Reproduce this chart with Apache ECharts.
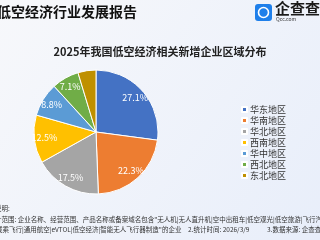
<!DOCTYPE html>
<html>
<head>
<meta charset="utf-8">
<script src="https://cdn.jsdelivr.net/npm/echarts@6/dist/echarts.min.js"></script>
<style>
  html, body { margin: 0; padding: 0; }
  #chart { width: 320px; height: 240px; }
</style>
</head>
<body>
<div id="chart"></div>
<script>
// 区域名称和占比(%)
var regions = ['华东地区', '华南地区', '华北地区', '西南地区', '华中地区', '西北地区', '东北地区']
var shares = [27.1, 22.3, 17.5, 12.5, 8.8, 7.1, 4.7]
var colors = ['#4472C4', '#ED7D31', '#A5A5A5', '#FFC000', '#5B9BD5', '#70AD47', '#BF9000']

// 底部说明，[文字, x, 行号]
var footItems = [
  ['说明:', -5, 0],
  ['1.统计范围: 企业名称、经营范围、产品名称或备案域名包含"无人机|无人直升机|空中出租车|低空观光|低空旅游|飞行汽车|载', -17, 1],
  ['载乘飞行|通用航空|eVTOL|低空经济|智能无人飞行器制造"的企业', -4, 2],
  ['2.统计时间: 2026/3/9', 188, 2],
  ['3.数据来源: 企查查', 267, 2]
]

var font = '"Noto Sans CJK SC", "Noto Sans", sans-serif'
var pieData = regions.map(function (name, i) {
  return { name: name, value: shares[i] }
})

var myChart = echarts.init(document.getElementById('chart'))

var graphics = [
  {
    type: 'text', left: -3, top: 5,
    style: { text: '低空经济行业发展报告', font: 'bold 14px ' + font, fill: '#111' }
  },
  {
    type: 'rect', shape: { x: 255, y: 4, width: 17, height: 17, r: 3 },
    style: { fill: '#1E7FEA' }
  },
  {
    type: 'circle', shape: { cx: 263.5, cy: 12.5, r: 5 },
    style: { fill: 'none', stroke: '#fff', lineWidth: 1.6 }
  },
  {
    type: 'text', left: 275, top: 1,
    style: { text: '企查查', font: 'bold 15px ' + font, fill: '#1a1a1a' }
  },
  {
    type: 'text', left: 276, top: 17,
    style: { text: 'Qcc.com', font: '5px ' + font, fill: '#333' }
  }
]
footItems.forEach(function (it) {
  graphics.push({
    type: 'text', left: it[1], top: 205 + it[2] * 10.8,
    style: { text: it[0], font: '6.5px ' + font, fill: '#333' }
  })
})

var option = {
  backgroundColor: {
    type: 'linear', x: 0, y: 0, x2: 1, y2: 1,
    colorStops: [{ offset: 0, color: '#f7f8fb' }, { offset: 1, color: '#e8eefa' }]
  },
  color: colors,
  title: {
    text: '2025年我国低空经济相关新增企业区域分布',
    left: 'center',
    top: 41,
    textStyle: { fontSize: 11, fontWeight: 'bold', color: '#222', fontFamily: font }
  },
  legend: {
    orient: 'vertical',
    left: 236,
    top: 100,
    icon: 'rect',
    itemWidth: 5,
    itemHeight: 5,
    itemGap: 2,
    data: regions,
    textStyle: { fontSize: 9, color: '#333', fontFamily: font, padding: [0, 0, 0, -2] }
  },
  graphic: graphics,
  series: [{
    type: 'pie',
    radius: [0, 62],
    center: [96, 132],
    startAngle: 90,
    animation: false,
    itemStyle: { borderColor: '#fff', borderWidth: 1 },
    label: { show: false },
    labelLine: { show: false },
    data: pieData
  }, {
    // 透明圆环，只用来放内部标签
    type: 'pie',
    radius: [36, 62],
    center: [96, 132],
    startAngle: 90,
    silent: true,
    animation: false,
    itemStyle: { color: 'transparent' },
    label: {
      show: true,
      position: 'inside',
      color: '#fff',
      fontSize: 9,
      fontFamily: font,
      formatter: function (p) { return p.value.toFixed(1) + '%' }
    },
    labelLine: { show: false },
    data: pieData
  }]
}
myChart.setOption(option)
</script>
</body>
</html>
